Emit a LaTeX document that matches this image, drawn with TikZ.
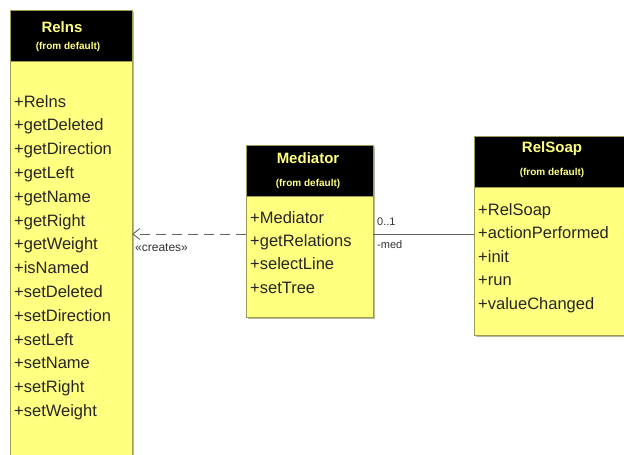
\documentclass[tikz,border=0pt]{standalone}
\usepackage{fontspec}
\setmainfont{Liberation Sans}
\usetikzlibrary{arrows.meta}
\definecolor{classfill}{HTML}{FFFF80}
\definecolor{classedge}{HTML}{9C9C50}
\definecolor{titlefg}{HTML}{FFFF80}
\definecolor{shadowgray}{HTML}{B8B8A0}
\definecolor{linegray}{HTML}{606060}
\tikzset{
  classbody/.style={draw=classedge, line width=0.8pt, fill=classfill},
  classhead/.style={draw=classedge, line width=0.8pt, fill=black},
  shadowbox/.style={fill=shadowgray},
  titletext/.style={text=titlefg, font=\fontsize{15}{15}\selectfont\bfseries, inner sep=0pt},
  fromtext/.style={text=titlefg, font=\fontsize{10}{10}\selectfont\bfseries, inner sep=0pt},
  itemtext/.style={anchor=base west, inner sep=0pt, font=\fontsize{16.5}{17}\selectfont, text=black!85},
  lbltext/.style={inner sep=0pt, font=\fontsize{11}{11}\selectfont, text=black!80},
}
\begin{document}
\begin{tikzpicture}[x=1pt,y=-1pt]
\useasboundingbox (0,0) rectangle (624,455);
\clip (0,0) rectangle (624,455);
% ---------- Relns ----------
\fill[shadowbox] (12,12) rectangle (134,470);
\draw[classbody] (10,61) rectangle (132,470);
\draw[classhead] (10,10) rectangle (132,61);
\node[titletext] (relnstitle) at (62,27) {Relns};
\node[fromtext] (relnsfrom) at (68,47) {(from default)};
\node[inner sep=0pt] (relnsbody) at (71,265) [minimum width=122pt, minimum height=408pt] {};
\foreach \t [count=\i from 0] in {+Relns,+getDeleted,+getDirection,+getLeft,+getName,+getRight,+getWeight,+isNamed,+setDeleted,+setDirection,+setLeft,+setName,+setRight,+setWeight}
  \node[itemtext] (r\i) at (14,{107+23.8*\i}) {\t};
% ---------- Mediator ----------
\fill[shadowbox] (248,147) rectangle (375,319);
\draw[classbody] (246,196) rectangle (373,317);
\draw[classhead] (246,145) rectangle (373,196);
\node[titletext] (medtitle) at (308,158) {Mediator};
\node[fromtext] (medfrom) at (308,184) {(from default)};
\node[inner sep=0pt] (medbody) at (309.5,256.5) [minimum width=127pt, minimum height=121pt] {};
\foreach \t [count=\i from 0] in {+Mediator,+getRelations,+selectLine,+setTree}
  \node[itemtext] (m\i) at (250,{223+23.4*\i}) {\t};
% ---------- RelSoap ----------
\fill[shadowbox] (476,138) rectangle (640,337);
\draw[classbody] (474,187) rectangle (632,335);
\draw[classhead] (474,136) rectangle (632,187);
\node[titletext] (soaptitle) at (552,149) {RelSoap};
\node[fromtext] (soapfrom) at (552,173) {(from default)};
\node[inner sep=0pt] (soapbody) at (553,261) [minimum width=158pt, minimum height=148pt] {};
\foreach \t [count=\i from 0] in {+RelSoap,+actionPerformed,+init,+run,+valueChanged}
  \node[itemtext] (s\i) at (478,{215+23.5*\i}) {\t};
% ---------- connectors ----------
\coordinate (lny) at (0,234);
\draw[linegray, line width=0.9pt, dash pattern=on 10pt off 6pt, -{Straight Barb[length=7pt,width=11pt]}]
  (medbody.west |- lny) -- (relnsbody.east |- lny);
\node[lbltext, anchor=west, font=\fontsize{12}{12}\selectfont] (creates) at (135,248) {«creates»};
\draw[linegray, line width=0.9pt] (medbody.east |- lny) -- (soapbody.west |- lny);
\node[lbltext, anchor=west] (mult) at (377,222) {0..1};
\node[lbltext, anchor=west] (role) at (377,245) {-med};
\end{tikzpicture}
\end{document}
